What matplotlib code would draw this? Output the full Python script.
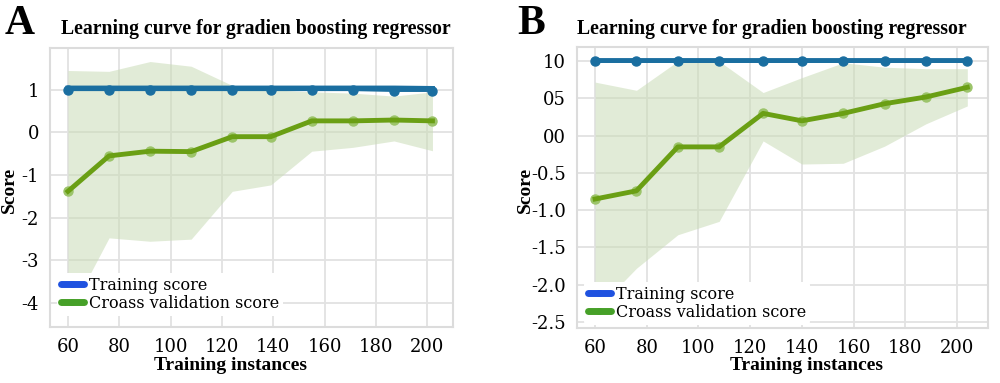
import numpy as np
import matplotlib.pyplot as plt
from matplotlib.lines import Line2D

# Panel A data
xA = [60, 76, 92, 108, 124, 139, 155, 171, 187, 202]
trainA = [1.0, 1.0, 1.0, 1.0, 1.0, 1.0, 1.0, 1.0, 0.98, 0.98]
trainA_hi = [1.04, 1.04, 1.04, 1.04, 1.04, 1.04, 1.04, 1.04, 1.04, 1.03]
cvA = [-1.38, -0.55, -0.44, -0.45, -0.10, -0.10, 0.27, 0.27, 0.29, 0.27]
cvA_hi = [1.45, 1.43, 1.66, 1.55, 1.10, 1.00, 0.95, 0.92, 0.85, 0.95]
cvA_lo = [-4.3, -2.47, -2.55, -2.5, -1.38, -1.23, -0.44, -0.35, -0.2, -0.43]

# Panel B data
xB = [60, 76, 92, 108, 125, 140, 156, 172, 188, 204]
trainB = [1.0, 1.0, 1.0, 1.0, 1.0, 1.0, 1.0, 1.0, 1.0, 1.0]
trainB_hi = [1.02] * 10
cvB = [-0.85, -0.74, -0.15, -0.15, 0.30, 0.20, 0.30, 0.43, 0.52, 0.65]
cvB_hi = [0.72, 0.61, 1.0, 1.0, 0.58, 0.78, 0.98, 0.92, 0.90, 0.90]
cvB_lo = [-2.35, -1.78, -1.33, -1.15, -0.07, -0.38, -0.37, -0.14, 0.16, 0.40]

yticksA = [1, 0, -1, -2, -3, -4]
yticksB = [1.0, 0.5, 0.0, -0.5, -1.0, -1.5, -2.0, -2.5]
ylabelsB = ["10", "05", "00", "-0.5", "-1.0", "-1.5", "-2.0", "-2.5"]
xticks = [60, 80, 100, 120, 140, 160, 180, 200]

train_col = "#1a6ea0"
cv_col = "#6a9f14"
fill_col = "#c9dcb6"

fig = plt.figure(figsize=(10, 3.83), dpi=100)
axA = fig.add_axes([0.05, 0.146, 0.403, 0.729])
axB = fig.add_axes([0.577, 0.144, 0.411, 0.733])


def draw(ax, x, tr, tr_hi, cv, cv_lo, cv_hi):
    ax.fill_between(x, cv_lo, cv_hi, color=fill_col, alpha=0.55, lw=0)
    ax.fill_between(x, tr, tr_hi, color=train_col, alpha=0.5, lw=0)
    ax.plot(x, tr_hi, color=train_col, lw=3.5)
    ax.plot(x, tr, "o-", color=train_col, lw=2, ms=6.5)
    ax.plot(x, cv, "o", color="#9cc46a", ms=6.5)
    ax.plot(x, cv, "-", color=cv_col, lw=3.5)
    ax.grid(True, color="#e2e2e2", lw=1.3)
    ax.set_axisbelow(True)
    for s in ax.spines.values():
        s.set_color("#dcdcdc")
        s.set_linewidth(1.5)
    ax.tick_params(length=0, labelsize=13, pad=8)
    handles = [Line2D([0], [0], color="#1f52e0", lw=5, marker="o", ms=4,
                      solid_capstyle="round"),
               Line2D([0], [0], color="#46a028", lw=5, marker="o", ms=4,
                      solid_capstyle="round")]
    return handles


hA = draw(axA, xA, trainA, trainA_hi, cvA, cvA_lo, cvA_hi)
axA.set_xlim(53, 210)
axA.set_ylim(-4.56, 1.98)
axA.set_xticks(xticks)
axA.set_yticks(yticksA)
axA.set_xticklabels([str(v) for v in xticks], family="DejaVu Serif", fontsize=13)
axA.set_yticklabels([str(v) for v in yticksA], family="DejaVu Serif", fontsize=13)
legA = axA.legend(hA, ["Training score", "Croass validation score"], loc="lower left",
                  bbox_to_anchor=(0.01, 0.03), frameon=True, framealpha=1, edgecolor="none",
                  prop={"family": "DejaVu Serif", "size": 11.5}, handlelength=1.4,
                  handletextpad=0.35, labelspacing=0.05, borderpad=0.25, borderaxespad=0.2)

hB = draw(axB, xB, trainB, trainB_hi, cvB, cvB_lo, cvB_hi)
axB.set_xlim(53, 212)
axB.set_ylim(-2.58, 1.19)
axB.set_xticks(xticks)
axB.set_yticks(yticksB)
axB.set_xticklabels([str(v) for v in xticks], family="DejaVu Serif", fontsize=13)
axB.set_yticklabels(ylabelsB, family="DejaVu Serif", fontsize=13)
legB = axB.legend(hB, ["Training score", "Croass validation score"], loc="lower left",
                  bbox_to_anchor=(0.01, 0.0), frameon=True, framealpha=1, edgecolor="none",
                  prop={"family": "DejaVu Serif", "size": 11.5}, handlelength=1.4,
                  handletextpad=0.35, labelspacing=0.05, borderpad=0.25, borderaxespad=0.2)

# titles, panel letters, axis labels
for cx in [0.256, 0.772]:
    fig.text(cx, 1 - 29 / 383, "Learning curve for gradien boosting regressor",
             ha="center", va="center", family="Liberation Serif", weight="bold", fontsize=14.2)
fig.text(0.005, 1 - 24 / 383, "A", ha="left", va="center", family="Liberation Serif",
         weight="bold", fontsize=30)
fig.text(0.517, 1 - 24 / 383, "B", ha="left", va="center", family="Liberation Serif",
         weight="bold", fontsize=30)
fig.text(0.231, 1 - 366 / 383, "Training instances", ha="center", va="center",
         family="Liberation Serif", weight="bold", fontsize=14)
fig.text(0.807, 1 - 366 / 383, "Training instances", ha="center", va="center",
         family="Liberation Serif", weight="bold", fontsize=14)
fig.text(0.009, 1 - 190 / 383, "Score", ha="center", va="center", rotation=90,
         family="Liberation Serif", weight="bold", fontsize=14)
fig.text(0.525, 1 - 190 / 383, "Score", ha="center", va="center", rotation=90,
         family="Liberation Serif", weight="bold", fontsize=14)

fig.savefig("out.png", dpi=100)
